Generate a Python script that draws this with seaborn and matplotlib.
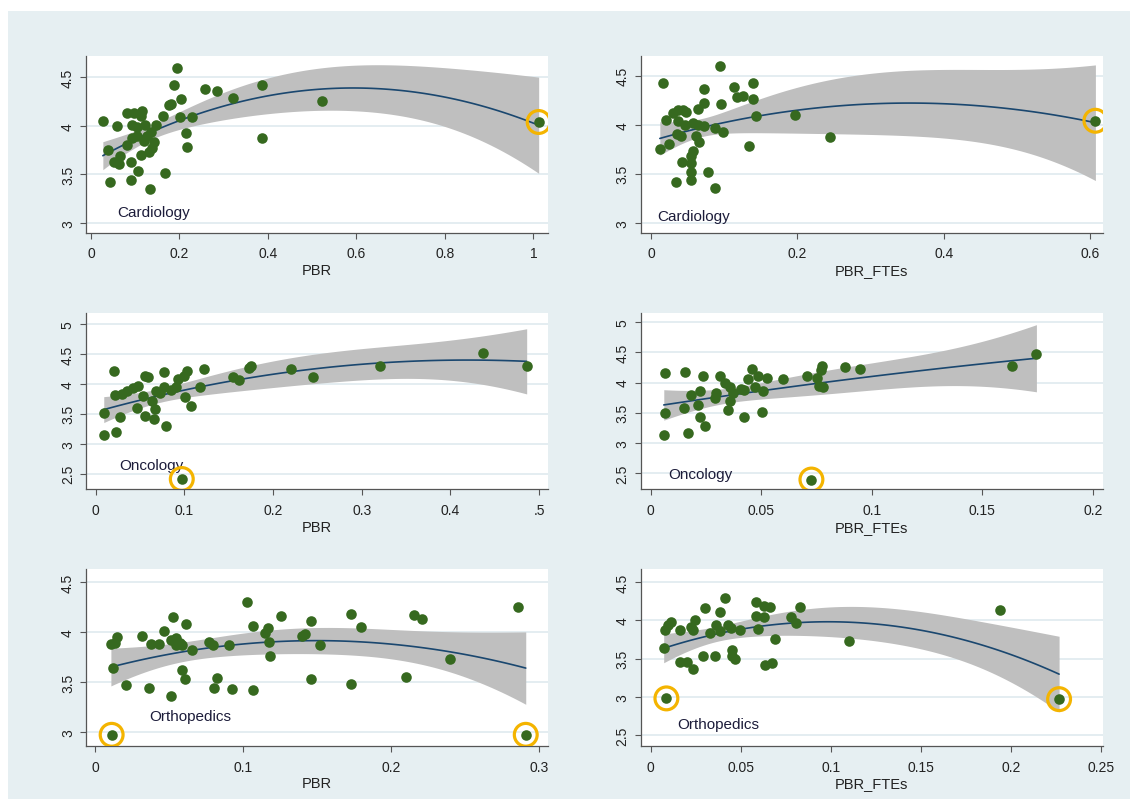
import matplotlib
matplotlib.use("Agg")
import matplotlib.pyplot as plt
from matplotlib.patches import Rectangle
import numpy as np
import seaborn as sns

# --- Cardiology ---
card_pbr_x = [0.194, 0.187, 0.257, 0.286, 0.387, 0.322, 0.203, 0.176, 0.180, 0.202, 0.229, 0.387, 0.216,
              0.218, 0.027, 0.059, 0.039, 0.052, 0.065, 0.063, 0.090, 0.107, 0.044, 0.091, 0.134, 0.168,
              0.082, 0.097, 0.115, 0.113, 0.094, 0.105, 0.123, 0.136, 0.147, 0.164, 0.082, 0.094, 0.120,
              0.143, 0.139, 0.132, 0.113, 0.126, 0.105, 0.522]
card_pbr_y = [4.60, 4.42, 4.38, 4.36, 4.42, 4.29, 4.28, 4.22, 4.23, 4.09, 4.09, 3.875, 3.93,
              3.78, 4.05, 4.00, 3.75, 3.63, 3.69, 3.61, 3.625, 3.53, 3.42, 3.44, 3.35, 3.51,
              4.135, 4.135, 4.15, 4.10, 4.01, 3.99, 4.01, 3.94, 4.01, 4.10, 3.80, 3.875, 3.84,
              3.83, 3.77, 3.735, 3.70, 3.90, 3.90, 4.256]
card_pbr_out_x = [1.012]
card_pbr_out_y = [4.04]

card_fte_x = [0.0936, 0.0167, 0.072, 0.113, 0.139, 0.118, 0.125, 0.139, 0.073, 0.095, 0.064, 0.143, 0.196,
              0.244, 0.021, 0.030, 0.037, 0.044, 0.048, 0.037, 0.046, 0.057, 0.064, 0.073, 0.087, 0.098,
              0.035, 0.041, 0.062, 0.066, 0.012, 0.024, 0.134, 0.057, 0.055, 0.042, 0.054, 0.055, 0.078,
              0.034, 0.055, 0.088]
card_fte_y = [4.60, 4.42, 4.36, 4.38, 4.42, 4.28, 4.29, 4.26, 4.225, 4.215, 4.16, 4.09, 4.095,
              3.87, 4.05, 4.12, 4.145, 4.145, 4.13, 4.035, 4.00, 4.02, 4.00, 3.985, 3.97, 3.93,
              3.90, 3.88, 3.88, 3.82, 3.755, 3.80, 3.78, 3.73, 3.68, 3.62, 3.61, 3.52, 3.515,
              3.42, 3.44, 3.355]
card_fte_out_x = [0.607]
card_fte_out_y = [4.04]

# --- Oncology ---
onc_pbr_x = [0.020, 0.056, 0.059, 0.077, 0.103, 0.100, 0.093, 0.122, 0.175, 0.155, 0.162, 0.117, 0.091,
             0.077, 0.068, 0.048, 0.042, 0.035, 0.022, 0.030, 0.101, 0.107, 0.063, 0.067, 0.046, 0.056,
             0.066, 0.027, 0.009, 0.079, 0.009, 0.023, 0.220, 0.245, 0.321, 0.437, 0.486,
             0.085, 0.072, 0.053, 0.173]
onc_pbr_y = [4.21, 4.135, 4.12, 4.19, 4.22, 4.135, 4.08, 4.25, 4.29, 4.11, 4.07, 3.94, 3.94,
             3.94, 3.88, 3.97, 3.93, 3.88, 3.81, 3.83, 3.78, 3.63, 3.72, 3.58, 3.59, 3.47,
             3.42, 3.44, 3.51, 3.30, 3.14, 3.19, 4.25, 4.12, 4.30, 4.51, 4.30,
             3.90, 3.85, 3.79, 4.26]
onc_pbr_out_x = [0.097]
onc_pbr_out_y = [2.41]

onc_fte_x = [0.0066, 0.0154, 0.0237, 0.0312, 0.0335, 0.0458, 0.0440, 0.0486, 0.0524, 0.0599, 0.0709,
             0.0777, 0.077, 0.0754, 0.0762, 0.078, 0.0878, 0.0946, 0.0357, 0.0373, 0.041, 0.042,
             0.0471, 0.0509, 0.0297, 0.0290, 0.0222, 0.0184, 0.0214, 0.0151, 0.0066, 0.0357, 0.0349,
             0.0222, 0.0244, 0.0421, 0.0504, 0.0169, 0.0059, 0.1636, 0.1745]
onc_fte_y = [4.16, 4.18, 4.10, 4.10, 4.00, 4.22, 4.06, 4.11, 4.08, 4.06, 4.10,
             4.28, 4.20, 4.08, 3.945, 3.92, 4.25, 4.225, 3.92, 3.83, 3.89, 3.87,
             3.92, 3.86, 3.83, 3.75, 3.86, 3.79, 3.62, 3.57, 3.49, 3.695, 3.545,
             3.42, 3.28, 3.42, 3.51, 3.17, 3.13, 4.28, 4.48]
onc_fte_out_x = [0.0727]
onc_fte_out_y = [2.39]

# --- Orthopedics ---
orth_pbr_x = [0.103, 0.1255, 0.1458, 0.0529, 0.0613, 0.0468, 0.1065, 0.117, 0.115, 0.0146, 0.032, 0.0108,
              0.0135, 0.0376, 0.0432, 0.0514, 0.0545, 0.0574, 0.0547, 0.0586, 0.0653, 0.077, 0.080, 0.0905,
              0.1178, 0.1182, 0.1397, 0.142, 0.152, 0.0124, 0.0586, 0.0608, 0.0209, 0.0365, 0.0514, 0.0806,
              0.0826, 0.0927, 0.1069, 0.1458, 0.173, 0.1797, 0.173, 0.2155, 0.2212, 0.2101, 0.2399, 0.286]
orth_pbr_y = [4.30, 4.165, 4.11, 4.155, 4.08, 4.01, 4.06, 4.04, 3.99, 3.95, 3.96, 3.88,
              3.89, 3.88, 3.88, 3.92, 3.94, 3.89, 3.87, 3.87, 3.82, 3.90, 3.87, 3.87,
              3.90, 3.76, 3.965, 3.98, 3.87, 3.64, 3.62, 3.53, 3.47, 3.44, 3.36, 3.44,
              3.54, 3.43, 3.42, 3.53, 4.18, 4.05, 3.48, 4.17, 4.13, 3.55, 3.73, 4.25]
orth_pbr_out_x = [0.0113, 0.291]
orth_pbr_out_y = [2.97, 2.97]

orth_fte_x = [0.0410, 0.0303, 0.0586, 0.0629, 0.066, 0.0383, 0.0586, 0.0629, 0.0826, 0.078, 0.0807, 0.0115,
              0.0096, 0.0078, 0.016, 0.0226, 0.0244, 0.0235, 0.0327, 0.0364, 0.0383, 0.0429, 0.0445, 0.0494,
              0.0595, 0.0688, 0.110, 0.0072, 0.016, 0.0199, 0.0236, 0.0292, 0.0357, 0.0451, 0.0453, 0.0466,
              0.0633, 0.067, 0.1936]
orth_fte_y = [4.29, 4.16, 4.24, 4.19, 4.17, 4.105, 4.06, 4.04, 4.18, 4.05, 3.96, 3.98,
              3.94, 3.87, 3.88, 3.92, 4.01, 3.88, 3.84, 3.94, 3.86, 3.94, 3.90, 3.87,
              3.89, 3.76, 3.73, 3.64, 3.46, 3.45, 3.365, 3.54, 3.54, 3.61, 3.54, 3.49,
              3.42, 3.44, 4.13]
orth_fte_out_x = [0.0087, 0.2265]
orth_fte_out_y = [2.98, 2.97]

# tick labels (Stata style)
card_pbr_xticks = [0, 0.2, 0.4, 0.6, 0.8, 1]
card_pbr_xlabels = ["0", "0.2", "0.4", "0.6", "0.8", "1"]
card_fte_xticks = [0, 0.2, 0.4, 0.6]
card_fte_xlabels = ["0", "0.2", "0.4", "0.6"]
onc_pbr_xticks = [0, 0.1, 0.2, 0.3, 0.4, 0.5]
onc_pbr_xlabels = ["0", "0.1", "0.2", "0.3", "0.4", ".5"]
onc_fte_xticks = [0, 0.05, 0.1, 0.15, 0.2]
onc_fte_xlabels = ["0", "0.05", "0.1", "0.15", "0.2"]
orth_pbr_xticks = [0, 0.1, 0.2, 0.3]
orth_pbr_xlabels = ["0", "0.1", "0.2", "0.3"]
orth_fte_xticks = [0, 0.05, 0.1, 0.15, 0.2, 0.25]
orth_fte_xlabels = ["0", "0.05", "0.1", "0.15", "0.2", "0.25"]

card_yticks = [3, 3.5, 4, 4.5]
card_ylabels = ["3", "3.5", "4", "4.5"]
onc_yticks = [2.5, 3, 3.5, 4, 4.5, 5]
onc_ylabels = ["2.5", "3", "3.5", "4", "4.5", "5"]
orth_pbr_yticks = [3, 3.5, 4, 4.5]
orth_pbr_ylabels = ["3", "3.5", "4", "4.5"]
orth_fte_yticks = [2.5, 3, 3.5, 4, 4.5]
orth_fte_ylabels = ["2.5", "3", "3.5", "4", "4.5"]

GREEN = "#36691f"
NAVY = "#1a476f"
BAND = "#bfbfbf"
RING = "#f4b400"
BG = "#e6eff2"

sns.set_theme(style="white")
plt.rcParams["font.family"] = ["Liberation Sans", "DejaVu Sans"]


def qfit_ci(x, y, n_grid=100):
    # quadratic OLS fit with analytic 95% CI of the mean (like Stata qfitci)
    x = np.asarray(x, float)
    y = np.asarray(y, float)
    X = np.column_stack([np.ones_like(x), x, x ** 2])
    beta, *_ = np.linalg.lstsq(X, y, rcond=None)
    resid = y - X @ beta
    dof = len(x) - 3
    s2 = resid @ resid / dof
    cov = s2 * np.linalg.inv(X.T @ X)
    grid = np.linspace(x.min(), x.max(), n_grid)
    G = np.column_stack([np.ones_like(grid), grid, grid ** 2])
    fit = G @ beta
    se = np.sqrt(np.einsum("ij,jk,ik->i", G, cov, G))
    t = 2.02
    return grid, fit, fit - t * se, fit + t * se


def draw_panel(ax, xs, ys, ox, oy, xlim, ylim, xticks, xlabels, yticks, ylabels,
               xlabel, name, name_pos):
    all_x = xs + ox
    all_y = ys + oy
    grid, fit, lo, hi = qfit_ci(all_x, all_y)
    ax.fill_between(grid, lo, hi, color=BAND, lw=0, zorder=1)
    sns.lineplot(x=grid, y=fit, ax=ax, color=NAVY, lw=1.2, zorder=2)
    sns.scatterplot(x=all_x, y=all_y, ax=ax, color=GREEN, s=58, linewidth=0, zorder=3)
    sns.scatterplot(x=ox, y=oy, ax=ax, s=270, facecolor="none", edgecolor=RING,
                    linewidth=2.3, zorder=4)

    ax.set_xlim(*xlim)
    ax.set_ylim(*ylim)
    ax.set_xticks(xticks)
    ax.set_xticklabels(xlabels)
    ax.set_yticks(yticks)
    ax.set_yticklabels(ylabels, rotation=90, va="center")
    ax.set_xlabel(xlabel, fontsize=10.5, labelpad=2, color="#222222")
    ax.set_ylabel("")
    ax.set_facecolor("white")
    ax.grid(axis="y", color="#dce8ed", lw=1.1)
    ax.grid(axis="x", visible=False)
    ax.set_axisbelow(True)
    for s in ["top", "right"]:
        ax.spines[s].set_visible(False)
    for s in ["left", "bottom"]:
        ax.spines[s].set_color("#555555")
        ax.spines[s].set_linewidth(0.9)
    ax.tick_params(axis="both", direction="out", length=4, width=0.8, color="#555555",
                   labelsize=10, labelcolor="#222222")
    ax.tick_params(axis="x", pad=6, bottom=True)
    ax.tick_params(axis="y", pad=4, left=True)
    ax.text(name_pos[0], name_pos[1], name, fontsize=11, color="#1c1c3a", ha="left", va="center")


fig, axes = plt.subplots(3, 2, figsize=(11.38, 8.03), dpi=100)
fig.patch.set_facecolor("white")
fig.patches.append(Rectangle((0.007, 0.004), 0.986, 0.981, transform=fig.transFigure,
                             facecolor=BG, edgecolor="none", zorder=-1))
plt.subplots_adjust(left=0.0756, right=0.969, top=0.929, bottom=0.070, wspace=0.201, hspace=0.453)

draw_panel(axes[0, 0], card_pbr_x, card_pbr_y, card_pbr_out_x, card_pbr_out_y,
           (-0.011, 1.033), (2.90, 4.72), card_pbr_xticks, card_pbr_xlabels,
           card_yticks, card_ylabels, "PBR", "Cardiology", (0.06, 3.11))
draw_panel(axes[0, 1], card_fte_x, card_fte_y, card_fte_out_x, card_fte_out_y,
           (-0.014, 0.617), (2.90, 4.70), card_fte_xticks, card_fte_xlabels,
           card_yticks, card_ylabels, "PBR_FTEs", "Cardiology", (0.008, 3.07))
draw_panel(axes[1, 0], onc_pbr_x, onc_pbr_y, onc_pbr_out_x, onc_pbr_out_y,
           (-0.011, 0.510), (2.24, 5.19), onc_pbr_xticks, onc_pbr_xlabels,
           onc_yticks, onc_ylabels, "PBR", "Oncology", (0.027, 2.64))
draw_panel(axes[1, 1], onc_fte_x, onc_fte_y, onc_fte_out_x, onc_fte_out_y,
           (-0.0045, 0.2045), (2.23, 5.16), onc_fte_xticks, onc_fte_xlabels,
           onc_yticks, onc_ylabels, "PBR_FTEs", "Oncology", (0.008, 2.48))
draw_panel(axes[2, 0], orth_pbr_x, orth_pbr_y, orth_pbr_out_x, orth_pbr_out_y,
           (-0.006, 0.306), (2.86, 4.63), orth_pbr_xticks, orth_pbr_xlabels,
           orth_pbr_yticks, orth_pbr_ylabels, "PBR", "Orthopedics", (0.037, 3.16))
draw_panel(axes[2, 1], orth_fte_x, orth_fte_y, orth_fte_out_x, orth_fte_out_y,
           (-0.0055, 0.2507), (2.36, 4.67), orth_fte_xticks, orth_fte_xlabels,
           orth_fte_yticks, orth_fte_ylabels, "PBR_FTEs", "Orthopedics", (0.0146, 2.64))

fig.savefig("out.png", dpi=100, facecolor=fig.get_facecolor())
